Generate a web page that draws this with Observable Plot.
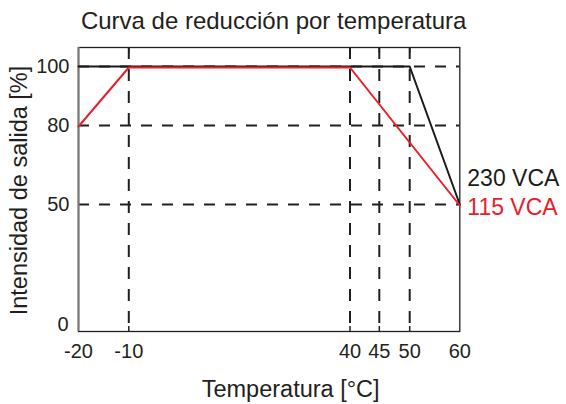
<!DOCTYPE html>
<html>
<head>
<meta charset="utf-8">
<script src="https://cdn.jsdelivr.net/npm/d3@7"></script>
<script src="https://cdn.jsdelivr.net/npm/@observablehq/plot@0.6"></script>
<style>
  html, body { margin: 0; padding: 0; background: #fff; }
</style>
</head>
<body>
<div id="chart"></div>
<script>
// ---- data ----
const title = "Curva de reducción por temperatura";
const xLabel = "Temperatura [°C]";
const yLabel = "Intensidad de salida [%]";

const xTicks = [-20, -10, 40, 45, 50, 60];
const yTicks = [0, 50, 80, 100];
const xGuides = [-10, 40, 45, 50];
const yGuides = [50, 80, 100];

const temp230 = [-20, 50, 60];
const int230 = [100, 100, 50];
const temp115 = [-20, -10, 40, 60];
const int115 = [80, 100, 100, 50];

const series = [
  {name: "230 VCA", color: "#1a1a1a", temp: temp230, value: int230},
  {name: "115 VCA", color: "#e8202a", temp: temp115, value: int115}
];

const s230 = temp230.map((t, i) => ({t, v: int230[i]}));
const s115 = temp115.map((t, i) => ({t, v: int115[i]}));

// ---- style ----
const ink = "#231f20";
const font = "'Liberation Sans', Arial, Helvetica, sans-serif";

const chart = Plot.plot({
  width: 566,
  height: 404,
  marginLeft: 78,
  marginRight: 106.7,
  marginTop: 47,
  marginBottom: 73,
  style: {fontFamily: font, color: ink, background: "#fff", overflow: "visible"},
  // schematic (non-uniform) axes: piecewise linear scales
  x: {type: "linear", domain: xTicks, range: [78, 128.3, 349.5, 378.8, 409.2, 459.3]},
  y: {type: "linear", domain: yTicks, range: [330.5, 204, 125, 66]},
  marks: [
    Plot.ruleY(yGuides, {stroke: ink, strokeWidth: 2, strokeDasharray: "11,10"}),
    Plot.ruleX(xGuides, {stroke: ink, strokeWidth: 2, strokeDasharray: "12,10"}),
    Plot.frame({stroke: ink, strokeWidth: 1.3}),
    Plot.ruleX([xTicks[0]], {stroke: "#777", strokeWidth: 2}),
    Plot.axisX({anchor: "bottom", ticks: xGuides, tickSize: -5, text: null, label: null, stroke: ink, strokeWidth: 1.5}),
    Plot.axisX({anchor: "top", ticks: xGuides, tickSize: -5, text: null, label: null, stroke: ink, strokeWidth: 1.5}),
    Plot.axisX({anchor: "bottom", ticks: xTicks, tickSize: 0, tickPadding: 12, fontSize: 20, tickFormat: d => String(d), label: null, fill: ink}),
    Plot.axisY({anchor: "left", ticks: yTicks.slice(1), tickSize: 0, tickPadding: 9, fontSize: 20, tickFormat: d => String(d), label: null, fill: ink}),
    Plot.axisY({anchor: "left", ticks: yTicks.slice(0, 1), tickSize: 0, tickPadding: 10, fontSize: 20, tickFormat: d => String(d), label: null, fill: ink, dy: -6}),
    Plot.line(s230, {x: "t", y: "v", stroke: series[0].color, strokeWidth: 2}),
    Plot.line(s115, {x: "t", y: "v", stroke: series[1].color, strokeWidth: 2, dy: 1}),
    Plot.text([series[0].name], {x: temp230[temp230.length - 1], y: int230[int230.length - 1], text: d => d, fill: series[0].color, textAnchor: "start", lineAnchor: "bottom", dx: 7.5, dy: -19, fontSize: 23}),
    Plot.text([series[1].name], {x: temp115[temp115.length - 1], y: int115[int115.length - 1], text: d => d, fill: series[1].color, textAnchor: "start", lineAnchor: "bottom", dx: 7.5, dy: 10, fontSize: 23}),
    Plot.text([title], {frameAnchor: "top", text: d => d, textAnchor: "middle", lineAnchor: "bottom", dx: 4.5, dy: -19, fontSize: 24, fill: ink}),
    Plot.text([xLabel], {frameAnchor: "bottom", text: d => d, textAnchor: "middle", lineAnchor: "bottom", dx: 21.5, dy: 65, fontSize: 23.5, fill: ink}),
    Plot.text([yLabel], {frameAnchor: "left", text: d => d, rotate: -90, textAnchor: "middle", lineAnchor: "middle", dx: -59, dy: 1, fontSize: 23.5, fill: ink})
  ]
});

document.getElementById("chart").appendChild(chart);
</script>
</body>
</html>
